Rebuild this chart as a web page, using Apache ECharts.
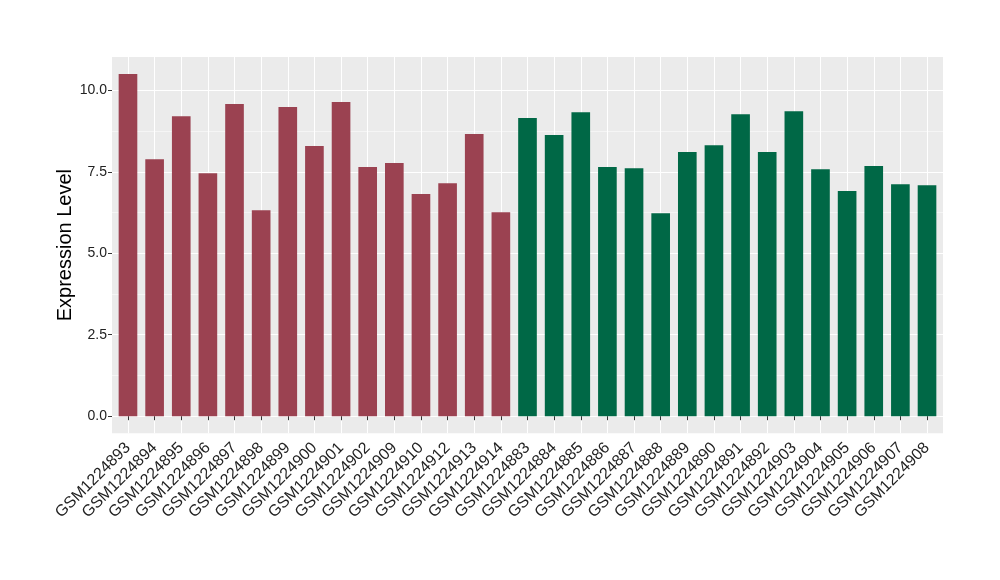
<!DOCTYPE html>
<html><head><meta charset="utf-8">
<script src="https://cdn.jsdelivr.net/npm/echarts@6/dist/echarts.min.js"></script>
<style>html,body{margin:0;padding:0;background:#fff}#c{width:1000px;height:580px}</style>
</head><body><div id="c"></div>
<script>
const groupACategories = ['GSM1224893','GSM1224894','GSM1224895','GSM1224896','GSM1224897','GSM1224898','GSM1224899','GSM1224900','GSM1224901','GSM1224902','GSM1224909','GSM1224910','GSM1224912','GSM1224913','GSM1224914'];
const groupBCategories = ['GSM1224883','GSM1224884','GSM1224885','GSM1224886','GSM1224887','GSM1224888','GSM1224889','GSM1224890','GSM1224891','GSM1224892','GSM1224903','GSM1224904','GSM1224905','GSM1224906','GSM1224907','GSM1224908'];
const groupAValues = [10.50, 7.89, 9.21, 7.46, 9.58, 6.32, 9.49, 8.29, 9.64, 7.65, 7.77, 6.82, 7.15, 8.66, 6.26];
const groupBValues = [9.15, 8.63, 9.33, 7.65, 7.61, 6.23, 8.11, 8.32, 9.27, 8.11, 9.36, 7.58, 6.91, 7.68, 7.12, 7.09];
const yTickLabels = ['0.0', '2.5', '5.0', '7.5', '10.0'];
const yMajorMin = 0, yMajorMax = 10, yMajorStep = 2.5;
const yMinorMin = 1.25, yMinorMax = 8.75;

const categories = groupACategories.concat(groupBCategories);
const colorA = '#9B4251', colorB = '#006846';
const barData = groupAValues.map(v => ({value: v, itemStyle: {color: colorA}}))
  .concat(groupBValues.map(v => ({value: v, itemStyle: {color: colorB}})));

const maxVal = Math.max(...groupAValues, ...groupBValues);
const yLo = -0.05 * maxVal, yHi = maxVal * 1.05;

// panel geometry
const pL = 112, pR = 943, pT = 57, pB = 433.3, W = 1000, H = 580;
const unitX = (pR - pL) / (categories.length - 1 + 1.2);
const unitY = (pB - pT) / (yHi - yLo);
const yPix = v => pB - (v - yLo) * unitY;

const chart = echarts.init(document.getElementById('c'), null, {renderer: 'canvas'});
const font = 'Liberation Sans';
chart.setOption({
  backgroundColor: '#ffffff',
  animation: false,
  textStyle: {fontFamily: font},
  grid: [
    {left: pL, right: W - pR, top: pT, bottom: H - pB, show: true, backgroundColor: '#EBEBEB', borderWidth: 0, containLabel: false},
    {left: pL + 0.6 * unitX, right: W - pR + 0.6 * unitX, top: pT, bottom: H - pB, containLabel: false},
    {left: pL, right: W - pR, top: yPix(yMajorMax), bottom: H - yPix(yMajorMin), containLabel: false},
    {left: pL, right: W - pR, top: yPix(yMinorMax), bottom: H - yPix(yMinorMin), containLabel: false}
  ],
  xAxis: [
    {gridIndex: 0, type: 'value', show: false},
    {gridIndex: 1, type: 'category', data: categories, boundaryGap: false,
      axisLine: {show: false},
      axisTick: {show: true, interval: 0, length: 4, lineStyle: {color: '#333333', width: 1}},
      axisLabel: {interval: 0, rotate: 45, fontSize: 16, color: '#222222', margin: 12, fontFamily: font},
      splitLine: {show: true, interval: 0, lineStyle: {color: '#ffffff', width: 1}}},
    {gridIndex: 2, type: 'value', show: false},
    {gridIndex: 3, type: 'value', show: false}
  ],
  yAxis: [
    {gridIndex: 0, type: 'value', min: yLo, max: yHi,
      axisLine: {show: false}, axisTick: {show: false}, axisLabel: {show: false}, splitLine: {show: false},
      name: 'Expression Level', nameLocation: 'middle', nameGap: 37,
      nameTextStyle: {fontSize: 20, color: '#000000', fontFamily: font}},
    {gridIndex: 1, type: 'value', min: yLo, max: yHi, show: false},
    {gridIndex: 2, type: 'value', min: yMajorMin, max: yMajorMax, interval: yMajorStep,
      axisLine: {show: false},
      axisTick: {show: true, length: 4, lineStyle: {color: '#333333', width: 1}},
      axisLabel: {fontSize: 14, color: '#222222', margin: 5, fontFamily: font,
        formatter: (v) => yTickLabels[Math.round((v - yMajorMin) / yMajorStep)]},
      splitLine: {show: true, lineStyle: {color: '#ffffff', width: 1}}},
    {gridIndex: 3, type: 'value', min: yMinorMin, max: yMinorMax, interval: yMajorStep,
      axisLine: {show: false}, axisTick: {show: false}, axisLabel: {show: false},
      splitLine: {show: true, lineStyle: {color: '#ffffff', width: 0.5}}}
  ],
  series: [{
    type: 'bar', xAxisIndex: 1, yAxisIndex: 1, data: barData,
    barWidth: '70%', clip: false, silent: true
  }]
});
</script></body></html>
